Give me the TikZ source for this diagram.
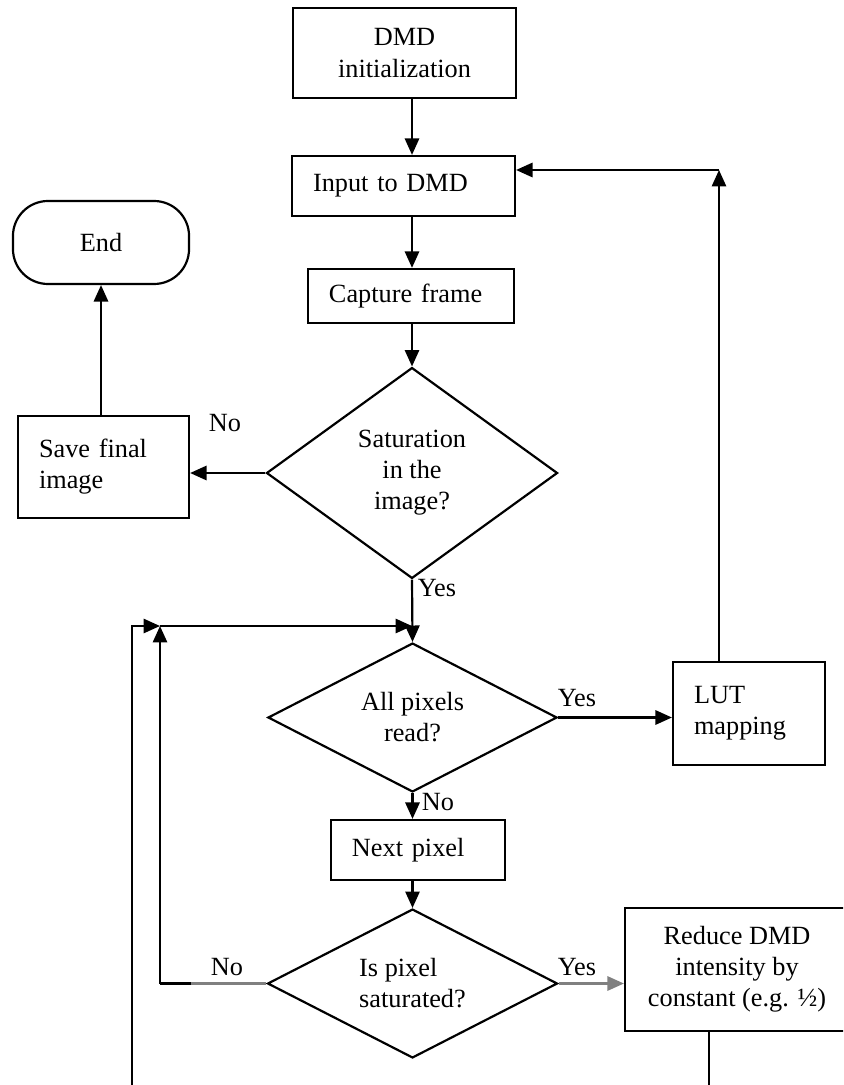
\documentclass[tikz,border=0pt]{standalone}
\usepackage{fontspec}
\setmainfont{Liberation Serif}
\usetikzlibrary{arrows.meta}
\usetikzlibrary{shapes.geometric}
\tikzset{
  box/.style={draw,line width=1pt,font=\fontsize{12}{14.2}\selectfont},
  lbox/.style={box,align=left,inner xsep=9.6pt,inner ysep=0pt},
  cbox/.style={box,align=center,inner sep=0pt},
  decision/.style={diamond,draw,line width=1pt,inner sep=0pt,align=center,font=\fontsize{12}{14.2}\selectfont},
  lbl/.style={inner sep=0pt,font=\fontsize{12}{14.2}\selectfont},
  line/.style={line width=1pt},
  gline/.style={line width=1pt,draw=gray},
  arr/.style={line width=1pt,-{Triangle[length=7.5pt,width=6.5pt]}},
  garr/.style={arr,draw=gray,fill=gray}
}

\begin{document}
\begin{tikzpicture}[x=0.4566pt,y=-0.4566pt]
\useasboundingbox (0,0) rectangle (843,1085);
\clip (0,0) rectangle (843,1085);
% main column
\node[cbox,minimum width=101.8pt,minimum height=41.1pt] (init) at (404.5,53) {DMD\\initialization};
\node[lbox,text width=82.6pt,minimum height=27.4pt] (input) at (403.5,186) {Input to DMD};
\node[lbox,text width=74.9pt,minimum height=24.7pt] (capture) at (411,296) {Capture frame};
\node[decision,minimum width=132.9pt,minimum height=96.3pt,shape aspect=1.38] (sat) at (412,473) {Saturation\\in the\\image?};
\node[decision,minimum width=132pt,minimum height=68pt,shape aspect=1.94] (allread) at (412.5,717.5) {All pixels\\read?};
\node[lbox,text width=60.3pt,minimum height=27.4pt] (next) at (418,850) {Next pixel};
\node[decision,align=left,minimum width=132.4pt,minimum height=68pt,shape aspect=1.94] (satpix) at (412.5,983.5) {Is pixel\\saturated?};
% side boxes
\node[lbox,text width=58.9pt,minimum height=46.6pt] (save) at (103.5,467) {Save final\\image};
\node[cbox,rounded corners=16pt,minimum width=80.4pt,minimum height=37.9pt] (stop) at (101,242.5) {End};
\node[lbox,text width=50.2pt,minimum height=47pt] (lut) at (749,713.5) {LUT\\mapping};
\node[cbox,minimum width=102.3pt,minimum height=56.2pt] (reduce) at (737,969.5) {Reduce DMD\\intensity by\\constant (e.g. ½)};
% bends and free ends
\coordinate (corner) at (719,170);
\coordinate (join) at (160,626);
\coordinate (jmid) at (412,626);
\coordinate (nobend) at (191,983.5);
\coordinate (nocorner) at (160,983.5);
\coordinate (outtop) at (132,626);
\coordinate (outbot) at (132,1085);
\coordinate (redbot) at (709,1085);
% connectors
\draw[arr] (init.south -| sat.north) -- (input.north -| sat.north);
\draw[arr] (input.south -| sat.north) -- (capture.north -| sat.north);
\draw[arr] (capture.south -| sat.north) -- (sat.north);
\draw[arr] (sat.west) -- (save.east |- sat.west);
\draw[arr] (save.north -| stop.south) -- (stop.south);
\draw[arr] (sat.south) -- (allread.north);
\draw[arr] (allread.east) -- (lut.west |- allread.east);
\draw[arr] (lut.north -| corner) -- (corner);
\draw[arr] (corner) -- (input.east |- corner);
\draw[arr] (allread.south) -- (next.north -| allread.south);
\draw[arr] (next.south -| satpix.north) -- (satpix.north);
\draw[garr] (satpix.east) -- (reduce.west |- satpix.east);
\draw[gline] (satpix.west) -- (nobend);
\draw[line] (nobend) -- (nocorner);
\draw[arr] (nocorner) -- (join);
\draw[arr] (join) -- (jmid);
\draw[arr] (outbot) -- (outtop) -- (join);
\draw[line] (reduce.south -| redbot) -- (redbot);
% labels
\node[lbl] (no1) at (225,423) {No};
\node[lbl] (yes1) at (437,588) {Yes};
\node[lbl] (yes2) at (577,698) {Yes};
\node[lbl] (no2) at (438,802) {No};
\node[lbl] (no3) at (227,967) {No};
\node[lbl] (yes3) at (577,967) {Yes};
\end{tikzpicture}
\end{document}
